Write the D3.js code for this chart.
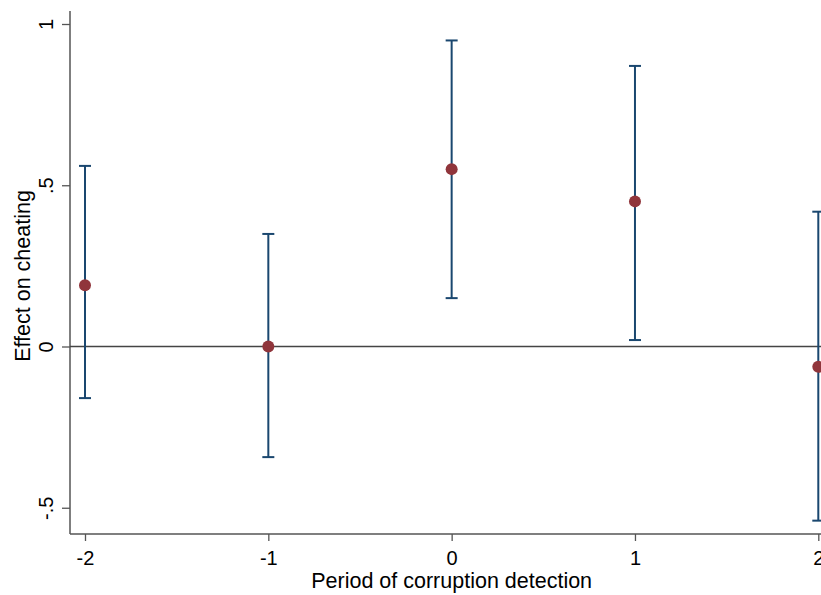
<!doctype html>
<html lang="en">
<head>
  <meta charset="utf-8">
  <title>Effect on cheating</title>
  <script src="https://d3js.org/d3.v7.min.js"></script>
  <style>
    body { margin: 0; background: #fff; }
    text { font-family: "Liberation Sans", Arial, Helvetica, sans-serif; fill: #000; }
  </style>
</head>
<body>
  <div id='my_chart'></div>
<script>
  const width = 821;
  const height = 595;
  const margin = {top: 11, right: 0, bottom: 61, left: 70};

  // data
  const periods = [-2, -1, 0, 1, 2];
  const estimates = [0.19, 0.00, 0.55, 0.45, -0.063];
  const ci_low = [-0.16, -0.343, 0.15, 0.02, -0.54];
  const ci_high = [0.56, 0.349, 0.949, 0.87, 0.418];
  const x_ticks = [-2, -1, 0, 1, 2];
  const x_tick_labels = ['-2', '-1', '0', '1', '2'];
  const y_ticks = [-0.5, 0, 0.5, 1];
  const y_tick_labels = ['-.5', '0', '.5', '1'];

  const my_data = periods.map((p, i) => ({x: p, y: estimates[i], lo: ci_low[i], hi: ci_high[i]}));

  const x = d3.scaleLinear()
    .domain([-2, 2])
    .range([85, 818.3]);
  const y = d3.scaleLinear()
    .domain([0, 1])
    .range([346.5, 24]);

  const chart = d3.select('#my_chart').append('svg')
    .attr('width', width)
    .attr('height', height)
    .style('background', '#fff');

  const axis_col = '#555';

  // y axis
  const y_axis = chart.append('g')
    .attr('transform', 'translate(' + margin.left + ',0)')
    .call(d3.axisLeft(y).tickValues(y_ticks).tickSize(8).tickPadding(9)
      .tickFormat((d, i) => y_tick_labels[i]));
  y_axis.select('.domain').remove();
  y_axis.append('line')
    .attr('x1', 0).attr('x2', 0)
    .attr('y1', margin.top).attr('y2', height - margin.bottom)
    .attr('stroke', axis_col).attr('stroke-width', 1.5);
  y_axis.selectAll('.tick line').attr('stroke', axis_col).attr('stroke-width', 1.3);
  y_axis.selectAll('.tick text')
    .attr('font-size', 20)
    .attr('x', null).attr('dy', null)
    .attr('text-anchor', 'middle')
    .attr('transform', 'translate(-17,0) rotate(-90)');

  // x axis
  const x_axis = chart.append('g')
    .attr('transform', 'translate(0,' + (height - margin.bottom) + ')')
    .call(d3.axisBottom(x).tickValues(x_ticks).tickSize(7).tickPadding(10)
      .tickFormat((d, i) => x_tick_labels[i]));
  x_axis.select('.domain').remove();
  x_axis.append('line')
    .attr('x1', margin.left).attr('x2', width)
    .attr('y1', 0).attr('y2', 0)
    .attr('stroke', axis_col).attr('stroke-width', 1.5);
  x_axis.selectAll('.tick line').attr('stroke', axis_col).attr('stroke-width', 1.3);
  x_axis.selectAll('.tick text').attr('font-size', 20);

  // axis titles
  chart.append('text')
    .attr('transform', 'translate(30,276) rotate(-90)')
    .attr('text-anchor', 'middle')
    .attr('font-size', 21.5)
    .text('Effect on cheating');
  chart.append('text')
    .attr('x', x(0))
    .attr('y', 588)
    .attr('text-anchor', 'middle')
    .attr('font-size', 21.5)
    .text('Period of corruption detection');

  // zero reference line
  chart.append('line')
    .attr('x1', margin.left).attr('x2', width)
    .attr('y1', y(0)).attr('y2', y(0))
    .attr('stroke', '#444').attr('stroke-width', 1.3);

  // error bars
  const bar_col = '#1a476f';
  const cap = 6;
  const bars = chart.append('g').selectAll('g')
    .data(my_data)
    .enter()
      .append('g');
  bars.append('line')
    .attr('x1', (d) => x(d.x)).attr('x2', (d) => x(d.x))
    .attr('y1', (d) => y(d.lo)).attr('y2', (d) => y(d.hi))
    .attr('stroke', bar_col).attr('stroke-width', 2);
  bars.append('line')
    .attr('x1', (d) => x(d.x) - cap).attr('x2', (d) => x(d.x) + cap)
    .attr('y1', (d) => y(d.hi)).attr('y2', (d) => y(d.hi))
    .attr('stroke', bar_col).attr('stroke-width', 2);
  bars.append('line')
    .attr('x1', (d) => x(d.x) - cap).attr('x2', (d) => x(d.x) + cap)
    .attr('y1', (d) => y(d.lo)).attr('y2', (d) => y(d.lo))
    .attr('stroke', bar_col).attr('stroke-width', 2);

  // point estimates
  chart.append('g').selectAll('circle')
    .data(my_data)
    .enter()
      .append('circle')
      .attr('cx', (d) => x(d.x))
      .attr('cy', (d) => y(d.y))
      .attr('r', 6)
      .style('fill', '#90353b');
</script>
</body>
</html>
